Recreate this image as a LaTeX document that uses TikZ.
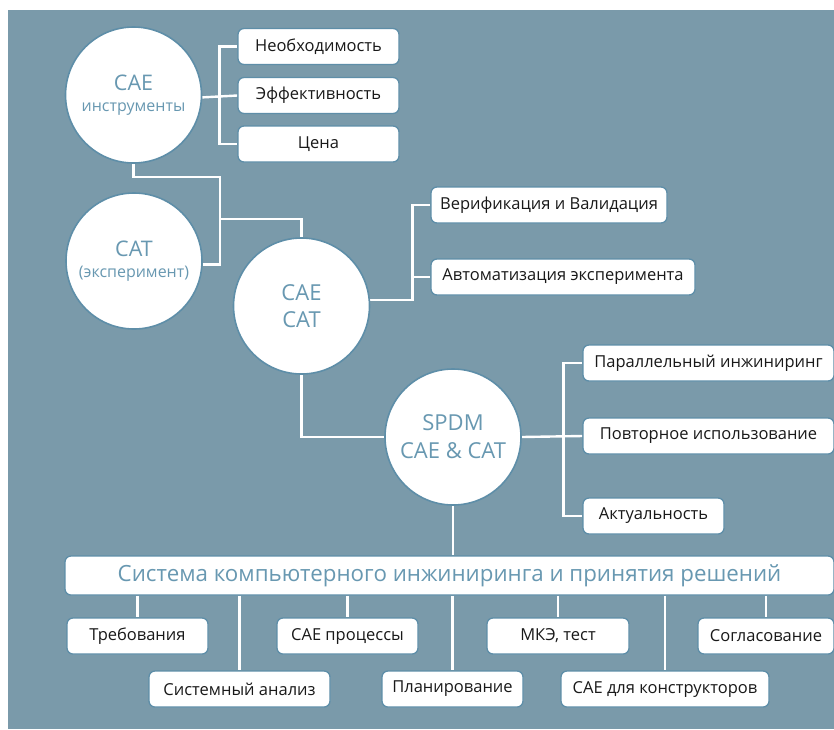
\documentclass[tikz,border=0pt]{standalone}
\usepackage{fontspec}
\setmainfont{Open Sans}
\definecolor{slate}{HTML}{7A9AAA}
\definecolor{rim}{HTML}{5E8EA8}
\definecolor{ink}{HTML}{6898B1}
\usetikzlibrary{backgrounds}
\newcommand{\circhead}[1]{{\fontsize{21.5}{27}\selectfont #1}}

\begin{document}
\begin{tikzpicture}[x=1pt, y=-1pt,
  bubble/.style={circle, fill=white, draw=rim, line width=1.6pt, minimum size=136pt,
    inner sep=0pt, align=center, text=ink, font=\fontsize{16}{21}\selectfont},
  tag/.style={rectangle, rounded corners=6pt, fill=white, draw=rim, line width=1.3pt,
    minimum height=36pt, inner sep=0pt, text=black!90, font=\fontsize{16.5}{19}\selectfont},
  link/.style={white, line width=2.4pt}]
  \useasboundingbox (0,0) rectangle (834,729);

  \node[bubble] (cae) at (133.5,95) {\circhead{CAE}\\инструменты};
  \node[bubble] (cat) at (134,261) {\circhead{CAT}\\(эксперимент)};
  \node[bubble, font=\fontsize{22}{27}\selectfont] (caecat) at (301.5,306) {CAE\\CAT};
  \node[bubble, font=\fontsize{22}{28}\selectfont] (spdm) at (453,437) {SPDM\\CAE \& CAT};

  \node[tag, minimum width=161pt] (need) at (318.5,46.5) {Необходимость};
  \node[tag, minimum width=161pt] (eff) at (318.5,95.5) {Эффективность};
  \node[tag, minimum width=161pt] (price) at (318.5,144) {Цена};

  \node[tag, minimum width=236pt] (verif) at (549,205) {Верификация и Валидация};
  \node[tag, minimum width=264pt] (auto) at (563,277) {Автоматизация эксперимента};

  \node[tag, minimum width=251pt] (para) at (708.5,363) {Параллельный инжиниринг};
  \node[tag, minimum width=251pt] (reuse) at (708.5,436) {Повторное использование};
  \node[tag, minimum width=141pt] (actual) at (653.5,516) {Актуальность};

  \node[tag, minimum width=769pt, minimum height=39pt, text=ink, font=\fontsize{22.3}{27}\selectfont]
    (bar) at (449.5,575.5) {Система компьютерного инжиниринга и принятия решений};

  \node[tag, minimum width=141pt] (req) at (137.5,636) {Требования};
  \node[tag, minimum width=181pt] (sysan) at (239.5,689) {Системный анализ};
  \node[tag, minimum width=141pt] (proc) at (347.5,636) {CAE процессы};
  \node[tag, minimum width=141pt] (plan) at (452.5,689) {Планирование};
  \node[tag, minimum width=142pt] (fem) at (558,636) {МКЭ, тест};
  \node[tag, minimum width=208pt] (design) at (665,689) {CAE для конструкторов};
  \node[tag, minimum width=136pt] (agree) at (766,636) {Согласование};

  \begin{scope}[on background layer]
    \fill[slate] (8,10) rectangle (834,729);
    \coordinate (fork) at (220,219);
    \draw[link] (need.west) -- ++(-18,0) |- (price.west);
    \draw[link] (cae.-2) -- (eff.west);
    \draw[link] (cae.south) -- ++(0,13) -| (fork |- cat.-3) -- (cat.-3);
    \draw[link] (fork) -| (caecat.north);
    \draw[link] (verif.west) -- ++(-18,0) |- (caecat.5);
    \draw[link] (auto.west) -- ++(-18,0);
    \draw[link] (caecat.south) |- (spdm.west);
    \draw[link] (para.west) -- ++(-19,0) |- (actual.west);
    \draw[link] (spdm.east) -- (reuse.west);
    \draw[link] (spdm.south) -- (spdm.south |- bar.north);
    \foreach \leaf in {req,sysan,proc,plan,fem,design,agree}
      \draw[link] (\leaf.north |- bar.south) -- (\leaf.north);
  \end{scope}
\end{tikzpicture}
\end{document}
